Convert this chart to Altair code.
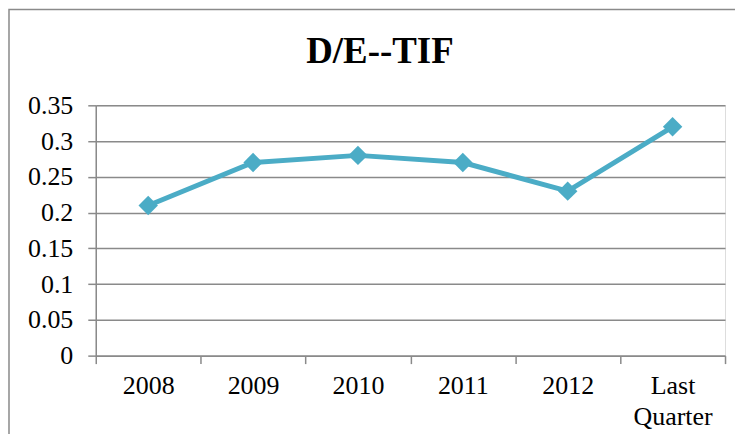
import altair as alt
import pandas as pd

categories = ["2008", "2009", "2010", "2011", "2012", "Last Quarter"]
values = [0.21, 0.27, 0.28, 0.27, 0.23, 0.32]
y_ticks = [0, 0.05, 0.1, 0.15, 0.2, 0.25, 0.3, 0.35]
title_text = "D/E--TIF"

df = pd.DataFrame({"cat": categories, "val": values})

W, H = 631, 251
FONT = "Liberation Serif"
GRID = "#8a8a8a"
LINE = "#4BACC6"

x_enc = alt.X(
    "cat:N",
    sort=categories,
    bandPosition=0.5,
    scale=alt.Scale(type="band", paddingInner=0, paddingOuter=0),
    axis=alt.Axis(
        title=None,
        labelAngle=0,
        labelFont=FONT,
        labelFontSize=26,
        labelColor="#000000",
        labelPadding=9,
        labelLineHeight=31,
        labelBaseline="top",
        labelOverlap=False,
        labelExpr="split(datum.label, ' ')",
        tickBand="extent",
        tickSize=8,
        tickColor=GRID,
        tickWidth=1.5,
        domainColor=GRID,
        domainWidth=1.5,
        grid=False,
    ),
)
y_enc = alt.Y(
    "val:Q",
    scale=alt.Scale(domain=[0, 0.35], nice=False, zero=True),
    axis=alt.Axis(
        title=None,
        values=y_ticks,
        tickCount=8,
        labelFont=FONT,
        labelFontSize=26,
        labelColor="#000000",
        labelPadding=15,
        labelOverlap=False,
        labelFlush=False,
        tickSize=8,
        tickColor=GRID,
        tickWidth=1.5,
        domainColor=GRID,
        domainWidth=1.5,
        grid=True,
        gridColor=GRID,
        gridWidth=1.5,
        labelExpr="format(datum.value, '.2~f')",
    ),
)

base = alt.Chart(df).encode(x=x_enc, y=y_enc)
line = base.mark_line(color=LINE, strokeWidth=5)
pts = base.mark_point(shape="diamond", filled=True, size=380, color=LINE, opacity=1)

one = alt.Chart(pd.DataFrame({"t": [title_text]}))
frame = one.mark_rect(fill=None, stroke=GRID, strokeWidth=1.5).encode(
    x=alt.value(-87), x2=alt.value(700), y=alt.value(-96), y2=alt.value(400)
)
title = one.mark_text(
    font=FONT, fontSize=37, fontWeight="bold", color="#000000",
    align="center", baseline="alphabetic",
).encode(text="t:N", x=alt.value(285), y=alt.value(-42))

chart = alt.layer(line, pts, frame, title).properties(
    width=W,
    height=H,
    autosize=alt.AutoSizeParams(type="none"),
    padding={"left": 88, "top": 97, "right": 10, "bottom": 78},
).configure_view(stroke=None).configure(background="white")

chart.save("out.html", embed_options={"renderer": "svg", "actions": False})
